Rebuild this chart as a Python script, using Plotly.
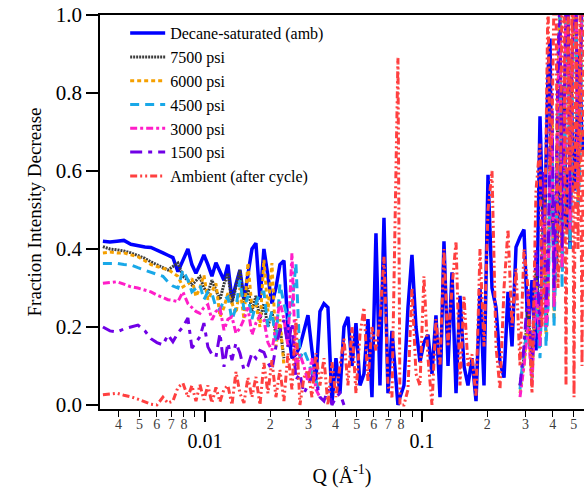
import plotly.graph_objects as go

# Q values (1/Angstrom)
q = [
    0.003388, 0.003650, 0.003932, 0.004233, 0.004560, 0.004911, 0.005290, 0.005640, 0.006010, 0.006406,
    0.006753, 0.007120, 0.007510, 0.007918, 0.008350, 0.008710, 0.009090, 0.009485, 0.009894, 0.01032,
    0.01077, 0.01124, 0.01173, 0.01224, 0.01276, 0.01332, 0.01390, 0.01450, 0.01513, 0.01578,
    0.01647, 0.01718, 0.01793, 0.01870, 0.01951, 0.02036, 0.02124, 0.02216, 0.02312, 0.02412,
    0.02517, 0.02626, 0.02740, 0.02858, 0.02983, 0.03112, 0.03246, 0.03388,
    0.03535, 0.03688, 0.03848, 0.04015, 0.04189, 0.04371, 0.04560, 0.04758, 0.04965, 0.05180,
    0.05404, 0.05639, 0.05883, 0.06138, 0.06405, 0.06682, 0.06972, 0.07274, 0.07750, 0.07918,
    0.08261, 0.08620, 0.08993, 0.09384, 0.09790, 0.1021, 0.1066, 0.1112, 0.1160, 0.1211,
    0.1263, 0.1318, 0.1375, 0.1435, 0.1497, 0.1562, 0.1629, 0.1700, 0.1774, 0.1851,
    0.1931, 0.2015, 0.2102, 0.2193, 0.2288, 0.2388, 0.2491, 0.2599, 0.2712, 0.2829,
    0.2951, 0.3080, 0.3213, 0.3352,
    0.3498, 0.3573, 0.3650, 0.3728, 0.3808, 0.3890, 0.3973, 0.4058, 0.4145, 0.4234,
    0.4325, 0.4418, 0.4512, 0.4609, 0.4708, 0.4809, 0.4912, 0.5018, 0.5125, 0.5235,
    0.5346, 0.5462, 0.5578,
]

decane_amb = [
    0.420, 0.418, 0.420, 0.422, 0.412, 0.408, 0.405, 0.404, 0.398, 0.390,
    0.384, 0.378, 0.342, 0.370, 0.400, 0.360, 0.338, 0.360, 0.385, 0.360,
    0.330, 0.365, 0.340, 0.320, 0.360, 0.270, 0.310, 0.346, 0.270, 0.330,
    0.400, 0.415, 0.270, 0.400, 0.330, 0.260, 0.300, 0.360, 0.370, 0.200,
    0.120, 0.130, 0.150, 0.190, 0.230, 0.140, 0.064, 0.240,
    0.260, 0.250, 0.005, 0.120, 0.030, 0.200, 0.226, 0.100, 0.210, 0.050,
    0.080, 0.220, 0.020, 0.440, 0.050, 0.480, 0.030, 0.190, 0.000, 0.020,
    0.050, 0.250, 0.385, 0.200, 0.110, 0.160, 0.180, 0.080, 0.230, 0.020,
    0.420, 0.100, 0.340, 0.030, 0.280, 0.100, 0.050, 0.120, 0.010, 0.300,
    0.050, 0.590, 0.300, 0.250, 0.110, 0.070, 0.290, 0.150, 0.405, 0.430,
    0.450, 0.180, 0.320, 0.140,
    0.740, 0.550, 0.400, 0.620, 0.850, 0.940, 0.500, 0.400, 0.350, 0.480,
    0.580, 0.700, 0.820, 0.450, 0.600, 0.400, 0.750, 0.550, 0.600, 0.850,
    0.900, 0.650, 0.700,
]

p7500 = [
    0.406, 0.400, 0.398, 0.395, 0.390, 0.383, 0.376, 0.367, 0.360, 0.352,
    0.346, 0.355, 0.364, 0.330, 0.320, 0.308, 0.320, 0.329, 0.300, 0.287,
    0.320, 0.295, 0.270, 0.310, 0.338, 0.260, 0.300, 0.346, 0.260, 0.300,
    0.240, 0.280, 0.220, 0.260, 0.200, 0.240, 0.180, 0.200, 0.120, None,
    None, None, None, None, None, None, None, None,
] + [None] * 49 + [
    0.05, 0.12, 0.25, 0.08, 0.35,
    0.18, 0.38, 0.55, 0.20, 0.30, 0.65, 0.75, 0.25, 0.45, 0.80,
    1.05, 0.38, 0.65, 1.05, 1.05, 0.45, 0.85, 1.05, 1.05, 0.55,
    0.70, 1.05, 1.05,
]

p6000 = [
    0.390, 0.392, 0.390, 0.390, 0.385, 0.380, 0.370, 0.360, 0.355, 0.350,
    0.348, 0.340, 0.330, 0.303, 0.310, 0.325, 0.278, 0.300, 0.333, 0.270,
    0.290, 0.312, 0.226, 0.250, 0.287, 0.260, 0.235, 0.300, 0.220, 0.364,
    0.250, 0.260, 0.200, 0.372, 0.240, 0.364, 0.150, 0.220, 0.100, None,
    None, None, None, None, None, None, None, None,
] + [None] * 49 + [
    0.03, 0.10, 0.22, 0.06, 0.32,
    0.15, 0.35, 0.50, 0.18, 0.28, 0.62, 0.72, 0.22, 0.40, 0.78,
    1.05, 0.35, 0.60, 1.05, 1.05, 0.42, 0.80, 1.05, 1.05, 0.52,
    0.65, 1.05, 1.05,
]

p4500 = [
    0.363, 0.363, 0.363, 0.360, 0.359, 0.352, 0.345, 0.340, 0.335, 0.330,
    0.316, 0.305, 0.300, 0.346, 0.320, 0.290, 0.300, 0.308, 0.270, 0.290,
    0.287, 0.250, 0.244, 0.270, 0.277, 0.218, 0.250, 0.320, 0.244, 0.280,
    0.220, 0.260, 0.290, 0.290, 0.200, 0.240, 0.160, 0.310, 0.260, 0.218,
    0.250, 0.364, 0.120, 0.140, 0.115, 0.080, 0.064, 0.030,
] + [None] * 49 + [
    0.04, 0.14, 0.20, 0.07, 0.30,
    0.12, 0.30, 0.45, 0.15, 0.25, 0.55, 0.68, 0.20, 0.38, 0.75,
    1.00, 0.30, 0.55, 1.05, 1.05, 0.40, 0.78, 1.05, 1.05, 0.50,
    0.62, 1.05, 1.05,
]

p3000 = [
    0.312, 0.314, 0.316, 0.310, 0.303, 0.300, 0.295, 0.290, 0.282, 0.275,
    0.270, 0.268, 0.265, 0.290, 0.260, 0.250, 0.240, 0.235, 0.250, 0.257,
    0.218, 0.240, 0.248, 0.192, 0.220, 0.226, 0.184, 0.197, 0.220, 0.250,
    0.180, 0.210, 0.230, 0.218, 0.160, 0.140, 0.200, 0.265, 0.220, 0.150,
    0.390, 0.090, 0.130, 0.100, 0.060, 0.120, 0.040, 0.020,
] + [None] * 49 + [
    0.02, 0.10, 0.20, 0.05, 0.30,
    0.15, 0.35, 0.50, 0.20, 0.25, 0.60, 0.70, 0.25, 0.45, 0.80,
    0.95, 0.35, 0.60, 1.05, 1.05, 0.45, 0.85, 1.05, 1.05, 0.55,
    0.75, 1.05, 1.05,
]

p1500 = [
    0.200, 0.190, 0.187, 0.195, 0.200, 0.205, 0.190, 0.170, 0.160, 0.154,
    0.180, 0.162, 0.185, 0.200, 0.223, 0.146, 0.160, 0.175, 0.210, 0.149,
    0.130, 0.123, 0.184, 0.098, 0.159, 0.115, 0.159, 0.133, 0.090, 0.100,
    0.133, 0.120, 0.140, 0.135, 0.108, 0.090, 0.150, 0.190, 0.218, 0.149,
    0.210, 0.064, 0.080, 0.030, 0.050, 0.072, 0.060, 0.020,
    0.010, 0.040, 0.000, 0.020, 0.030, 0.000,
] + [None] * 43 + [
    0.05, 0.15, 0.30, 0.10, 0.40,
    0.20, 0.45, 0.60, 0.25, 0.35, 0.70, 0.80, 0.30, 0.50, 0.90,
    1.05, 0.40, 0.70, 1.05, 1.05, 0.50, 0.90, 1.05, 1.05, 0.60,
    0.80, 1.05, 1.05,
]

ambient_after = [
    0.026, 0.028, 0.030, 0.025, 0.021, 0.015, 0.008, 0.002, 0.000, 0.020,
    0.005, 0.010, 0.045, 0.056, 0.020, 0.050, 0.010, 0.052, 0.013, 0.050,
    0.005, 0.045, 0.008, 0.040, 0.050, 0.000, 0.085, 0.030, 0.005, 0.070,
    0.020, 0.072, 0.000, 0.108, 0.030, 0.115, 0.020, 0.090, 0.010, 0.133,
    0.040, 0.220, 0.000, 0.070, 0.090, 0.020, 0.133, 0.050,
    0.120, 0.000, 0.110, 0.020, 0.100, 0.170, 0.050, 0.200, 0.030, 0.180,
    0.250, 0.060, 0.200, 0.140, 0.220, 0.380, 0.050, 0.020, 0.890, 0.000,
    0.000, 0.040, 0.300, 0.080, 0.050, 0.330, 0.120, 0.000, 0.220, 0.100,
    0.400, 0.150, 0.300, 0.420, 0.050, 0.280, 0.100, 0.130, 0.020, 0.400,
    0.150, 0.500, 0.600, 0.150, 0.040, 0.300, 0.450, 0.200, 0.350, 0.100,
    0.400, 0.300, 0.030, 0.550,
    0.670, 0.200, 0.300, 0.670, 1.050, 0.600, 0.700, 1.050, 1.050, 0.300,
    0.450, 1.050, 1.050, 0.050, 1.050, 0.600, 1.050, 0.020, 1.050, 0.400,
    1.050, 0.100, 1.050,
]

series_names = ["Decane-saturated (amb)", "7500 psi", "6000 psi", "4500 psi",
                "3000 psi", "1500 psi", "Ambient (after cycle)"]
series_values = [decane_amb, p7500, p6000, p4500, p3000, p1500, ambient_after]
series_colors = ["rgb(0,0,255)", "rgb(60,60,60)", "rgb(245,160,0)", "rgb(25,168,232)",
                 "rgb(255,30,200)", "rgb(112,0,230)", "rgb(255,64,64)"]
series_dash = ["solid", "2px,1px", "4px,3px", "9px,6px", "7px,3px,3px,3px",
               "12px,6px,4px,6px", "7px,3px,2px,3px,2px,3px"]
series_width = [3.5, 3, 3, 3, 3, 3, 3]

minor_vals = [0.004, 0.005, 0.006, 0.007, 0.008,
              0.02, 0.03, 0.04, 0.05, 0.06, 0.07, 0.08,
              0.2, 0.3, 0.4, 0.5]
minor_text = ["4", "5", "6", "7", "8",
              "2", "3", "4", "5", "6", "7", "8",
              "2", "3", "4", "5"]
unlabeled_vals = [0.009, 0.09]
major_vals = [0.01, 0.1]
major_text = ["0.01", "0.1"]
y_vals = [0.0, 0.2, 0.4, 0.6, 0.8, 1.0]

FONT = "Liberation Serif"

fig = go.Figure()
for name, vals, col, dash, w in zip(series_names, series_values, series_colors,
                                    series_dash, series_width):
    fig.add_trace(go.Scatter(x=q, y=vals, mode="lines", name=name,
                             line=dict(color=col, width=w, dash=dash),
                             connectgaps=False))

# helper trace to activate the overlaid axis carrying the decade labels
fig.add_trace(go.Scatter(x=[q[0]], y=[None], xaxis="x2", mode="lines",
                         showlegend=False, hoverinfo="skip"))

xr = [-2.4834, -0.2535]
fig.update_layout(
    template="none",
    width=584, height=489,
    margin=dict(l=100, r=0, t=15, b=80, autoexpand=False),
    paper_bgcolor="white", plot_bgcolor="white",
    font=dict(family=FONT, color="black"),
    showlegend=True,
    legend=dict(x=0.052, y=0.997, xanchor="left", yanchor="top",
                bgcolor="rgba(0,0,0,0)", borderwidth=0, itemwidth=35,
                font=dict(family=FONT, size=16, color="black"),
                tracegroupgap=0),
    xaxis=dict(type="log", range=xr, tickmode="array", tickvals=minor_vals,
               ticktext=minor_text, ticks="outside", ticklen=6, tickwidth=1.2,
               tickcolor="black", tickfont=dict(family=FONT, size=14, color="rgb(60,60,60)"),
               ticklabelstandoff=-5,
               minor=dict(tickmode="array", tickvals=unlabeled_vals, ticks="outside",
                          ticklen=6, tickwidth=1.2, tickcolor="black", showgrid=False),
               showline=True, linecolor="black", linewidth=1.5, mirror=True,
               showgrid=False, zeroline=False, automargin=False),
    xaxis2=dict(type="log", range=xr, overlaying="x", anchor="y", side="bottom",
                tickmode="array", tickvals=major_vals, ticktext=major_text,
                ticks="outside", ticklen=12, tickwidth=1.5, tickcolor="black",
                tickfont=dict(family=FONT, size=20, color="black"),
                ticklabelstandoff=2,
                showline=False, showgrid=False, zeroline=False, automargin=False,
                title=dict(text="Q (Å<sup>-1</sup>)", font=dict(family=FONT, size=20),
                           standoff=17)),
    yaxis=dict(range=[-0.0103, 1.0], tickmode="array", tickvals=y_vals,
               tickformat=".1f", ticksuffix="\u00a0", ticks="outside", ticklen=12,
               tickwidth=1.5, tickcolor="black",
               tickfont=dict(family=FONT, size=21, color="black"),
               showline=True, linecolor="black", linewidth=1.5, mirror=False,
               showgrid=False, zeroline=False, automargin=False,
               title=dict(text="Fraction Intensity Decrease",
                          font=dict(family=FONT, size=19), standoff=9)),
)

fig.write_html("out.html", config={"displayModeBar": False},
               post_script="document.body.style.margin='0px';document.body.style.overflow='hidden';")
